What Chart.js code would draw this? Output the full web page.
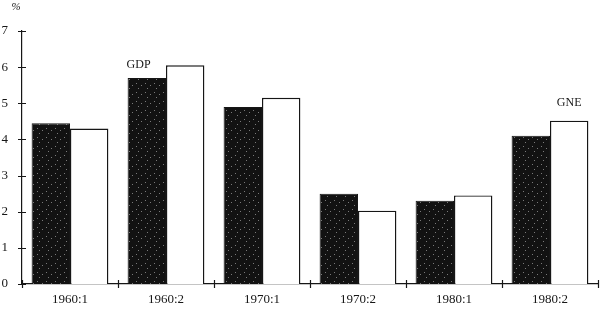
<!DOCTYPE html>
<html>
<head>
<meta charset="utf-8">
<script src="https://cdn.jsdelivr.net/npm/chart.js@4.4.1/dist/chart.umd.min.js"></script>
<style>
  html, body { margin: 0; padding: 0; background: #fff; }
  #wrap { width: 600px; height: 309px; position: relative; }
</style>
</head>
<body>
<div id="wrap"><canvas id="c"></canvas></div>
<script>
// Growth rates by half-decade, per cent
const periods = ['1960:1', '1960:2', '1970:1', '1970:2', '1980:1', '1980:2'];
const gdp = [4.45, 5.7, 4.9, 2.5, 2.3, 4.1];
const gne = [4.3, 6.05, 5.15, 2.03, 2.45, 4.52];
const yTicks = [0, 1, 2, 3, 4, 5, 6, 7];

const INK = '#161616';
const FONT = '"Liberation Serif", "DejaVu Serif", serif';

// speckled dark fill, like the printed halftone
function speckle() {
    const c = document.createElement('canvas');
    c.width = 9; c.height = 9;
    const g = c.getContext('2d');
    g.fillStyle = '#121212';
    g.fillRect(0, 0, 9, 9);
    g.fillStyle = '#7a7a7a';
    [[1, 2], [6, 4], [3, 7]].forEach(p => g.fillRect(p[0], p[1], 1, 1));
    return g.createPattern(c, 'repeat');
}

const axisMarks = {
    id: 'axisMarks',
    afterDraw(chart) {
        const { ctx, chartArea: a, scales: { x, y } } = chart;
        ctx.save();
        ctx.strokeStyle = INK;
        ctx.lineWidth = 1.2;
        ctx.beginPath();
        yTicks.forEach(v => {
            const py = Math.round(y.getPixelForValue(v)) + 0.5;
            ctx.moveTo(a.left - 4, py); ctx.lineTo(a.left + 4, py);
        });
        for (let i = 0; i <= periods.length; i++) {
            const px = Math.round(x.getPixelForValue(i - 0.5)) + 0.5;
            ctx.moveTo(px, a.bottom - 4); ctx.lineTo(px, a.bottom + 4);
        }
        ctx.stroke();

        ctx.fillStyle = INK;
        ctx.font = 'italic 11px ' + FONT;
        ctx.textAlign = 'center';
        ctx.textBaseline = 'alphabetic';
        ctx.fillText('%', 16, 10);

        ctx.font = '12px ' + FONT;
        const d = chart.getDatasetMeta(0).data[1];
        ctx.textAlign = 'left';
        ctx.fillText('GDP', d.x - d.width / 2 - 1, d.y - 10);
        const n = chart.getDatasetMeta(1).data[5];
        ctx.textAlign = 'center';
        ctx.fillText('GNE', n.x, n.y - 15);
        ctx.restore();
    }
};

new Chart(document.getElementById('c'), {
    type: 'bar',
    data: {
        labels: periods,
        datasets: [
            { label: 'GDP', data: gdp, backgroundColor: speckle(), borderColor: INK, borderWidth: 1 },
            { label: 'GNE', data: gne, backgroundColor: '#ffffff', borderColor: INK, borderWidth: 1.4 }
        ]
    },
    options: {
        responsive: true,
        maintainAspectRatio: false,
        animation: false,
        layout: { padding: { top: 31, right: 2, left: 0, bottom: 0 } },
        datasets: { bar: { categoryPercentage: 0.8, barPercentage: 1.0 } },
        plugins: { legend: { display: false }, tooltip: { enabled: false } },
        scales: {
            x: {
                grid: { display: false },
                border: { display: true, color: INK, width: 1.2 },
                ticks: { color: INK, font: { family: FONT, size: 13 }, padding: 0, maxRotation: 0 },
                afterFit(s) { s.height = 25; }
            },
            y: {
                min: 0, max: 7,
                afterBuildTicks(s) { s.ticks = yTicks.map(v => ({ value: v })); },
                grid: { display: false, tickLength: 14 },
                border: { display: true, color: INK, width: 1.2 },
                ticks: { color: INK, font: { family: FONT, size: 13 }, padding: 0 },
                afterFit(s) { s.width = 22; }
            }
        }
    },
    plugins: [axisMarks]
});
</script>
</body>
</html>
